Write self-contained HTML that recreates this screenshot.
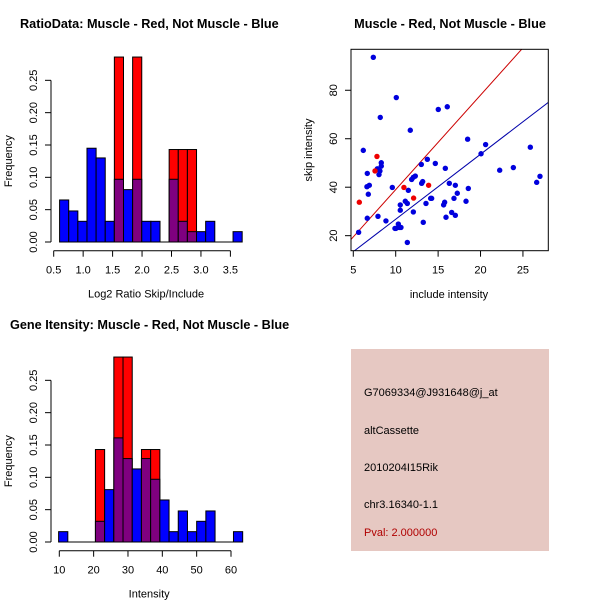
<!DOCTYPE html>
<html><head><meta charset="utf-8"><style>
body{margin:0;background:#fff}
svg{display:block;font-family:"Liberation Sans",sans-serif}
</style></head><body>
<svg id="c" width="600" height="600" viewBox="0 0 600 600">
<rect width="600" height="600" fill="#fff"/>
<text x="20" y="28" font-size="12.7" font-weight="bold">RatioData: Muscle - Red, Not Muscle - Blue</text>
<text x="450" y="28" font-size="12.7" font-weight="bold" text-anchor="middle">Muscle - Red, Not Muscle - Blue</text>
<text x="10" y="329" font-size="12.7" font-weight="bold">Gene Itensity: Muscle - Red, Not Muscle - Blue</text>
<rect x="351" y="349" width="198" height="202" fill="#e6c8c2"/>
<g font-size="11">
<text x="364" y="396">G7069334@J931648@j_at</text>
<text x="364" y="434">altCassette</text>
<text x="364" y="471">2010204I15Rik</text>
<text x="364" y="508">chr3.16340-1.1</text>
<text x="364" y="536" fill="#b00000">Pval: 2.000000</text>
</g>
</svg>
<script>
// ---- data ----
const ratioBlue=[0.065,0.048,0.032,0.145,0.13,0.032,0.097,0.081,0.097,0.032,0.032,0,0.097,0.032,0.016,0.016,0.032,0,0,0.016];
const ratioRed=[0,0,0,0,0,0,0.286,0,0.286,0,0,0,0.143,0.143,0.143,0,0,0,0,0];
const ratioBinStart=0.6, ratioBinWidth=0.155;
const ratioXTicks=[0.5,1.0,1.5,2.0,2.5,3.0,3.5];
const intBlue=[0.016,0,0,0,0.032,0.081,0.161,0.129,0.113,0.129,0.097,0.065,0.016,0.048,0.016,0.032,0.048,0,0,0.016];
const intRed=[0,0,0,0,0.143,0,0.286,0.286,0,0.143,0.143,0,0,0,0,0,0,0,0,0];
const intBinStart=9.8, intBinWidth=2.68;
const intXTicks=[10,20,30,40,50,60];
const freqTicks=[0,0.05,0.10,0.15,0.20,0.25];
const blueX=[7.36,10.07,15.02,16.08,8.18,11.72,18.48,20.6,6.18,25.87,6.65,7.83,8.3,8.3,8.14,8.03,13.73,14.67,13.02,15.85,12.31,11.88,12.08,13.06,13.18,9.6,6.61,6.89,6.77,11.49,22.26,23.87,26.62,27.01,16.32,17.03,17.26,18.56,16.87,15.77,14.12,14.24,13.57,15.65,11.13,11.37,10.54,10.54,18.29,16.6,17.03,15.93,13.25,12.08,8.85,6.65,7.91,10.03,10.31,10.42,10.62,9.91,11.37,5.63,20.06];
const blueY=[93.6,77.0,72.1,73.2,68.8,63.5,59.8,57.6,55.2,56.5,45.7,47.6,50.1,48.7,46.7,45.2,51.5,49.8,49.4,47.8,44.6,43.2,44.1,41.6,42.3,39.9,40.2,40.8,37.1,38.7,47.0,48.1,42.0,44.5,41.6,40.8,37.5,39.5,35.4,33.8,35.4,35.4,33.3,32.7,34.2,33.3,32.7,30.5,34.2,29.6,28.4,27.6,25.5,29.8,26.1,27.2,28.0,23.0,24.8,23.4,23.4,23.0,17.2,21.4,53.8];
const redX=[5.71,7.79,7.56,10.97,12.11,13.88];
const redY=[33.8,52.7,46.7,39.9,35.5,40.8];
const redSlope=3.9, blueSlope=2.68;
const scXTicks=[5,10,15,20,25];
const scYTicks=[20,40,60,80];

const svg=document.getElementById('c');
const NS='http://www.w3.org/2000/svg';
function mk(tag,attrs,parent){const e=document.createElementNS(NS,tag);for(const k in attrs)e.setAttribute(k,attrs[k]);(parent||svg).appendChild(e);return e;}

function hist(blue,red,start,width,xTicks,xPx0,xScale,yBase,xLabel,prefix){
  const g=mk('g',{});
  
  
  const sx=v=>xPx0+(v-xTicks[0])*xScale;
  const sy=v=>yBase-v*646.7;
  for(let i=0;i<blue.length;i++){
    const x0=sx(start+i*width), x1=sx(start+(i+1)*width);
    const b=blue[i], r=red[i];
    if(r>0){const e=mk('rect',{x:x0,y:sy(r),width:x1-x0,height:sy(0)-sy(r),fill:'#ff0000',stroke:'#000','stroke-width':1},g);
      
      }
    if(b>0){const col=r>0?'#7f007f':'#0000ff';const e=mk('rect',{x:x0,y:sy(b),width:x1-x0,height:sy(0)-sy(b),fill:col,stroke:'#000','stroke-width':1},g);
      
      }
  }
  mk('line',{x1:sx(start),x2:sx(start+blue.length*width),y1:yBase,y2:yBase,stroke:'#000'},g);
  const ya=mk('g',{},g);
  
  
  mk('line',{x1:51,x2:51,y1:sy(0),y2:sy(0.25),stroke:'#000'},ya);
  freqTicks.forEach(t=>{
    mk('line',{x1:45,x2:51,y1:sy(t),y2:sy(t),stroke:'#000'},ya);
    const tx=mk('text',{x:0,y:0,'font-size':11,'text-anchor':'middle',transform:`translate(37,${sy(t)}) rotate(-90)`},ya);
    tx.textContent=t.toFixed(2);
  });
  const yl=mk('text',{'font-size':11,'text-anchor':'middle',transform:`translate(12,${sy(0.125)}) rotate(-90)`},g);
  yl.textContent='Frequency';
  
  
  const xa=mk('g',{},g);
  
  
  const ay=yBase+8.7;
  mk('line',{x1:sx(xTicks[0]),x2:sx(xTicks[xTicks.length-1]),y1:ay,y2:ay,stroke:'#000'},xa);
  xTicks.forEach(t=>{
    mk('line',{x1:sx(t),x2:sx(t),y1:ay,y2:ay+6,stroke:'#000'},xa);
    const tx=mk('text',{x:sx(t),y:ay+23,'font-size':11,'text-anchor':'middle'},xa);
    tx.textContent=Number.isInteger(t)&&t>=10?String(t):t.toFixed(1);
  });
  const xl=mk('text',{x:sx((xTicks[0]+xTicks[xTicks.length-1])/2)+4,y:ay+47,'font-size':11,'text-anchor':'middle'},g);
  xl.textContent=xLabel;
  
  
}
hist(ratioBlue,ratioRed,ratioBinStart,ratioBinWidth,ratioXTicks,53.7,58.9,242,'Log2 Ratio Skip/Include','ratio');
hist(intBlue,intRed,intBinStart,intBinWidth,intXTicks,59.3,3.434,542,'Intensity','intensity');

const L=351,R=548.3,T=49.3,B=250.7;
const xmin=4.73,xmax=27.99,ymin=13.8,ymax=96.9;
const px=v=>L+(v-xmin)/(xmax-xmin)*(R-L);
const py=v=>B-(v-ymin)/(ymax-ymin)*(B-T);
const sg=mk('g',{});


mk('clipPath',{id:'clp'},sg);
mk('rect',{x:L,y:T,width:R-L,height:B-T},document.getElementById('clp'));
const lg=mk('g',{'clip-path':'url(#clp)'},sg);
const rl=mk('line',{x1:px(xmin),y1:py(redSlope*xmin),x2:px(xmax),y2:py(redSlope*xmax),stroke:'#cc0000'},lg);


const bl=mk('line',{x1:px(xmin),y1:py(blueSlope*xmin),x2:px(xmax),y2:py(blueSlope*xmax),stroke:'#0000aa'},lg);


blueX.forEach((x,i)=>{const c=mk('circle',{cx:px(x),cy:py(blueY[i]),r:2.7,fill:'#0000dd'},sg);
  
  });
redX.forEach((x,i)=>{const c=mk('circle',{cx:px(x),cy:py(redY[i]),r:2.7,fill:'#ee0000'},sg);
  
  });
mk('rect',{x:L,y:T,width:R-L,height:B-T,fill:'none',stroke:'#000'},sg);
const sxa=mk('g',{},sg);


scXTicks.forEach(t=>{
  mk('line',{x1:px(t),x2:px(t),y1:B,y2:B+6,stroke:'#000'},sxa);
  const tx=mk('text',{x:px(t),y:B+23,'font-size':11,'text-anchor':'middle'},sxa);tx.textContent=t;
});
const sya=mk('g',{},sg);


scYTicks.forEach(t=>{
  mk('line',{x1:L-6,x2:L,y1:py(t),y2:py(t),stroke:'#000'},sya);
  const tx=mk('text',{'font-size':11,'text-anchor':'middle',transform:`translate(337,${py(t)}) rotate(-90)`},sya);tx.textContent=t;
});
const sxl=mk('text',{x:449,y:298,'font-size':11,'text-anchor':'middle'},sg);sxl.textContent='include intensity';


const syl=mk('text',{'font-size':11,'text-anchor':'middle',transform:`translate(312,150) rotate(-90)`},sg);syl.textContent='skip intensity';


</script>
</body></html>
